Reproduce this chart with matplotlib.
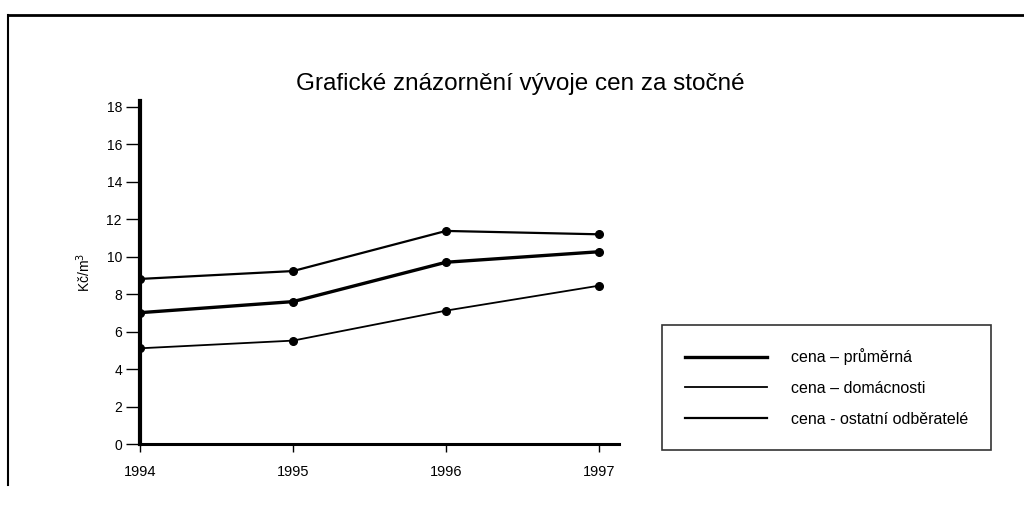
import numpy as np
import matplotlib.pyplot as plt
from matplotlib.lines import Line2D

plt.rcParams['font.family'] = ['Liberation Sans', 'DejaVu Sans']

years = [1994, 1995, 1996, 1997]
cena_prumerna = [7.02, 7.61, 9.71, 10.27]
cena_domacnosti = [5.12, 5.53, 7.13, 8.46]
cena_ostatni = [8.82, 9.24, 11.38, 11.2]
labels = ['cena – průměrná', 'cena – domácnosti', 'cena - ostatní odběratelé']
y_ticks = list(range(0, 19, 2))

fig = plt.figure(figsize=(10.24, 5.05), dpi=100)
# osa: x 140..619 px, y 101..444 px
ax = fig.add_axes([140 / 1024, 1 - 444.3 / 505, (619 - 140) / 1024, (444.3 - 101) / 505])

l1, = ax.plot(years, cena_prumerna, color='black', lw=2.4, marker='o', ms=5.5)
l2, = ax.plot(years, cena_domacnosti, color='black', lw=1.3, marker='o', ms=5.5)
l3, = ax.plot(years, cena_ostatni, color='black', lw=1.6, marker='o', ms=5.5)

ax.set_xlim(1994, 1997 + 20 / 153)
ax.set_ylim(0, 18.31)
ax.set_xticks(years)
ax.set_yticks(y_ticks)
ax.tick_params(axis='both', labelsize=10, color='black', width=1)
ax.tick_params(axis='x', direction='out', length=6, pad=9, labelsize=10.5)
ax.tick_params(axis='y', direction='out', length=10, pad=3)
for s in ['top', 'right']:
    ax.spines[s].set_visible(False)
ax.spines['left'].set_linewidth(3.0)
ax.spines['bottom'].set_linewidth(2.2)
ax.set_ylabel('Kč/m$^3$', fontsize=10, labelpad=10)

fig.text(520 / 1024, 1 - 84 / 505, 'Grafické znázornění vývoje cen za stočné',
         ha='center', va='center', fontsize=17.5)

leg = fig.legend([l1, l2, l3], labels,
                 loc='upper left', bbox_to_anchor=(662 / 1024, 1 - 325 / 505),
                 borderaxespad=0, frameon=True, fancybox=False, edgecolor='black',
                 fontsize=11.5, handlelength=5.1, handletextpad=1.5,
                 borderpad=1.45, labelspacing=1.0)
leg.get_frame().set_linewidth(1.2)
for h in leg.legend_handles:
    h.set_marker('')

# ramecek kolem obrazku
fig.add_artist(Line2D([8 / 1024, 1.0], [1 - 15 / 505, 1 - 15 / 505], color='black', lw=2))
fig.add_artist(Line2D([8 / 1024, 8 / 1024], [1 - 15 / 505, 1 - 485 / 505], color='black', lw=1.5))

fig.savefig('out.png', dpi=100)
